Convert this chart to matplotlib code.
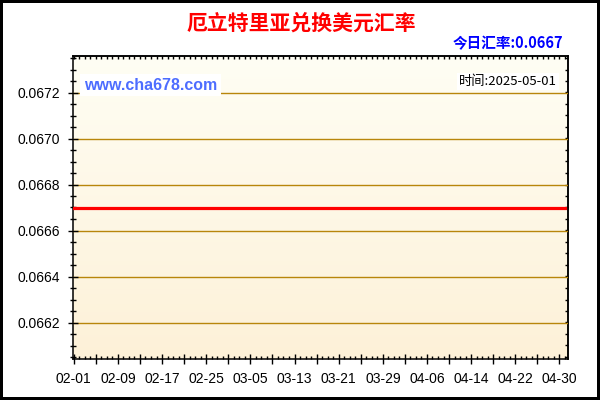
import matplotlib

matplotlib.use("Agg")
import matplotlib.pyplot as plt
import numpy as np
import pandas as pd
from matplotlib.colors import LinearSegmentedColormap
from matplotlib.ticker import FixedLocator, MultipleLocator

CJK = ["Noto Sans CJK SC", "DejaVu Sans"]
LATIN = ["Liberation Sans", "DejaVu Sans"]

title = "厄立特里亚兑换美元汇率"
today_label = "今日汇率:0.0667"
time_label = "时间:2025-05-01"
watermark = "www.cha678.com"

dates = pd.date_range("2025-02-01", "2025-05-01", freq="D")
rates = [
    0.0667, 0.0667, 0.0667, 0.0667, 0.0667, 0.0667, 0.0667, 0.0667, 0.0667, 0.0667,
    0.0667, 0.0667, 0.0667, 0.0667, 0.0667, 0.0667, 0.0667, 0.0667, 0.0667, 0.0667,
    0.0667, 0.0667, 0.0667, 0.0667, 0.0667, 0.0667, 0.0667, 0.0667, 0.0667, 0.0667,
    0.0667, 0.0667, 0.0667, 0.0667, 0.0667, 0.0667, 0.0667, 0.0667, 0.0667, 0.0667,
    0.0667, 0.0667, 0.0667, 0.0667, 0.0667, 0.0667, 0.0667, 0.0667, 0.0667, 0.0667,
    0.0667, 0.0667, 0.0667, 0.0667, 0.0667, 0.0667, 0.0667, 0.0667, 0.0667, 0.0667,
    0.0667, 0.0667, 0.0667, 0.0667, 0.0667, 0.0667, 0.0667, 0.0667, 0.0667, 0.0667,
    0.0667, 0.0667, 0.0667, 0.0667, 0.0667, 0.0667, 0.0667, 0.0667, 0.0667, 0.0667,
    0.0667, 0.0667, 0.0667, 0.0667, 0.0667, 0.0667, 0.0667, 0.0667, 0.0667, 0.0667,
]

x_tick_labels = ["02-01", "02-09", "02-17", "02-25", "03-05", "03-13",
                 "03-21", "03-29", "04-06", "04-14", "04-22", "04-30"]
y_ticks = [0.0662, 0.0664, 0.0666, 0.0668, 0.0670, 0.0672]
y_tick_labels = ["0.0662", "0.0664", "0.0666", "0.0668", "0.0670", "0.0672"]

days = np.asarray((dates - dates[0]).days, dtype=float)
x_lim = (-0.13, days[-1] + 0.55)
y_lim = (0.06604, 0.06736)

fig = plt.figure(figsize=(6, 4), dpi=100, facecolor="white", edgecolor="black", linewidth=3)
ax = fig.add_axes([73 / 600, 1 - 359.3 / 400, 495 / 600, 303.6 / 400])

# soft vertical gradient behind the plot
grad = np.linspace(0, 1, 256).reshape(-1, 1)
cmap = LinearSegmentedColormap.from_list("bg", ["#fdf1d8", "#fffef4"])
ax.imshow(grad, extent=(*x_lim, *y_lim), aspect="auto", cmap=cmap, origin="lower", zorder=0)

ax.plot(days, rates, color="#ff0000", linewidth=2.3, zorder=3)

ax.set_xlim(*x_lim)
ax.set_ylim(*y_lim)

# bottom axis: medium ticks every 4 days, labels every 8 days, small every day
major_pos = days[::4]
major_labels = []
for i in range(len(major_pos)):
    major_labels.append(x_tick_labels[i // 2] if i % 2 == 0 else "")
ax.xaxis.set_major_locator(FixedLocator(major_pos))
ax.set_xticklabels(major_labels)
ax.xaxis.set_minor_locator(FixedLocator(days))

ax.yaxis.set_major_locator(FixedLocator(y_ticks))
ax.set_yticklabels(y_tick_labels)
ax.yaxis.set_minor_locator(MultipleLocator(0.00005))

ax.tick_params(axis="x", which="major", direction="inout", length=6.5, width=1, pad=6,
               labelsize=10, colors="black")
ax.tick_params(axis="x", which="minor", direction="in", length=2.5, width=1)
ax.tick_params(axis="y", which="major", direction="inout", length=6.5, width=1, pad=6,
               labelsize=10)
ax.tick_params(axis="y", which="minor", direction="inout", length=4.5, width=1)
for lab in ax.get_xticklabels() + ax.get_yticklabels():
    lab.set_fontfamily(LATIN)

ax.grid(axis="y", which="major", color="#b8860b", linewidth=1.0, zorder=1)
ax.set_axisbelow(False)

for side in ["left", "bottom", "top", "right"]:
    ax.spines[side].set_linewidth(1.1)
    ax.spines[side].set_color("black")

top = ax.secondary_xaxis("top")
top.xaxis.set_major_locator(FixedLocator(days))
top.tick_params(direction="in", length=2.5, width=1, labeltop=False)
top.spines["top"].set_linewidth(1.1)

right = ax.secondary_yaxis("right")
right.yaxis.set_major_locator(MultipleLocator(0.00005))
right.tick_params(direction="in", length=2.5, width=1, labelright=False)
right.spines["right"].set_linewidth(1.1)

fig.text(301 / 600, 1 - 23 / 400, title, color="#ff0000", fontsize=15, fontweight="bold",
         family=CJK, ha="center", va="center")
fig.text(563 / 600, 1 - 43 / 400, today_label, color="#0000ff", fontsize=10.5,
         fontweight="bold", family=CJK, ha="right", va="center")
fig.text(84 / 600, 1 - 85 / 400, watermark, color="#4d6dff", fontsize=11.5,
         fontweight="bold", family=LATIN, ha="left", va="center",
         bbox=dict(facecolor="white", edgecolor="none", pad=2.5), zorder=5)
fig.text(557 / 600, 1 - 81.5 / 400, time_label, color="black", fontsize=9.5,
         family=CJK, ha="right", va="center",
         bbox=dict(facecolor="white", edgecolor="none", pad=1.5), zorder=5)

fig.savefig("out.png", dpi=100)
